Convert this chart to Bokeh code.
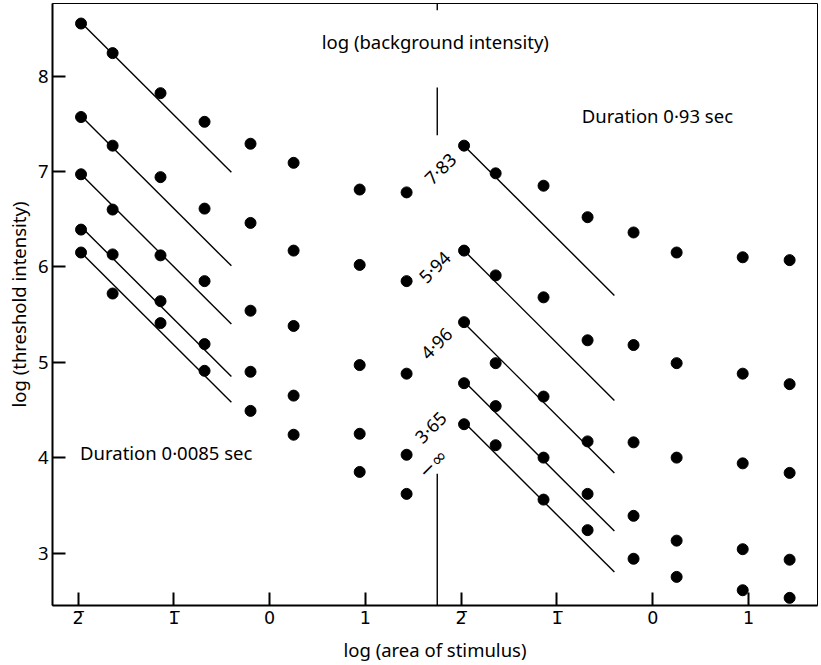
from bokeh.plotting import figure
from bokeh.models import FixedTicker, Range1d
from bokeh.core.properties import value
from bokeh.embed import file_html
from bokeh.resources import INLINE

# ---- data -------------------------------------------------------------
# log(area of stimulus) at which thresholds were measured
area_log = [-1.97, -1.64, -1.14, -0.68, -0.20, 0.25, 0.94, 1.43]

# background intensities (log) labelling the five curves
background_labels = ["7·83", "5·94", "4·96", "3·65"]
dark_label = ["−∞"]

# Duration 0.0085 sec : log(threshold intensity)
short_783 = [8.55, 8.24, 7.82, 7.52, 7.29, 7.09, 6.81, 6.78]
short_594 = [7.57, 7.27, 6.94, 6.61, 6.46, 6.17, 6.02, 5.85]
short_496 = [6.97, 6.60, 6.12, 5.85, 5.54, 5.38, 4.97, 4.88]
short_365 = [6.39, 6.13, 5.64, 5.19, 4.90, 4.65, 4.25, 4.03]
short_dark = [6.15, 5.72, 5.41, 4.91, 4.49, 4.24, 3.85, 3.62]

# Duration 0.93 sec : log(threshold intensity)
long_783 = [7.27, 6.98, 6.85, 6.52, 6.36, 6.15, 6.10, 6.07]
long_594 = [6.17, 5.91, 5.68, 5.23, 5.18, 4.99, 4.88, 4.77]
long_496 = [5.42, 4.99, 4.64, 4.17, 4.16, 4.00, 3.94, 3.84]
long_365 = [4.78, 4.54, 4.00, 3.62, 3.39, 3.13, 3.04, 2.93]
long_dark = [4.35, 4.13, 3.56, 3.24, 2.94, 2.75, 2.61, 2.53]

# slope -1 (complete summation) fits: intercepts and area extent
fit_short_intercept = [6.59, 5.61, 5.00, 4.45, 4.18]
fit_long_intercept = [5.30, 4.20, 3.44, 2.83, 2.40]
fit_area_start = -1.97
fit_area_end = -0.40

tick_values = [-2, -1, 0, 1]
tick_labels = ["2\u0305", "1\u0305", "0", "1"]

# ---- layout constants -------------------------------------------------
PANEL_OFFSET = 4.0       # right panel shifted along the x axis
DIVIDER_X = 1.75
FONT = "Noto Sans"
TICK_FONT = "DejaVu Sans"
Y_TOP = 8.76
Y_BOT = 2.45

p = figure(frame_width=765, frame_height=602,
           x_range=Range1d(-2.268, 5.721), y_range=Range1d(Y_BOT, Y_TOP),
           output_backend="svg", toolbar_location=None,
           min_border_left=52, min_border_right=3, min_border_top=3,
           min_border_bottom=55)
p.grid.visible = False
p.outline_line_color = "black"
p.outline_line_width = 1
p.background_fill_color = "white"
p.border_fill_color = "white"

# axes
p.xaxis.ticker = FixedTicker(ticks=tick_values + [t + PANEL_OFFSET for t in tick_values])
p.xaxis.major_label_overrides = {**{t: l for t, l in zip(tick_values, tick_labels)},
                                 **{t + PANEL_OFFSET: l for t, l in zip(tick_values, tick_labels)}}
p.yaxis.ticker = FixedTicker(ticks=[3, 4, 5, 6, 7, 8])
for ax in (p.xaxis[0], p.yaxis[0]):
    ax.major_tick_in = 13
    ax.major_tick_out = 0
    ax.minor_tick_line_color = None
    ax.axis_line_width = 2
    ax.major_tick_line_width = 2
    ax.major_label_text_font = FONT
    ax.major_label_text_font_size = "18.5px"
    ax.major_label_text_color = "black"
    ax.axis_label_text_font = FONT
    ax.axis_label_text_font_size = "18.5px"
    ax.axis_label_text_font_style = "normal"
    ax.axis_label_text_color = "black"
p.xaxis.major_label_text_font = TICK_FONT
p.xaxis.major_label_text_font_size = "17.5px"
p.xaxis.axis_label = "log (area of stimulus)"
p.yaxis.axis_label = "log (threshold intensity)"
p.xaxis.major_label_standoff = 2
p.xaxis.axis_label_standoff = 6
p.yaxis.major_label_standoff = 4
p.yaxis.axis_label_standoff = 4

# points
short_series = [short_783, short_594, short_496, short_365, short_dark]
long_series = [long_783, long_594, long_496, long_365, long_dark]
for ys in short_series:
    p.scatter(area_log, ys, size=11, marker="circle", color="black")
for ys in long_series:
    p.scatter([a + PANEL_OFFSET for a in area_log], ys, size=11, marker="circle", color="black")

# fitted lines of slope -1
for a in fit_short_intercept:
    p.line([fit_area_start, fit_area_end], [a - fit_area_start, a - fit_area_end],
           line_color="black", line_width=1.4)
for a in fit_long_intercept:
    p.line([fit_area_start + PANEL_OFFSET, fit_area_end + PANEL_OFFSET],
           [a - fit_area_start, a - fit_area_end], line_color="black", line_width=1.4)

# divider between the two durations
p.segment(x0=[DIVIDER_X] * 3, x1=[DIVIDER_X] * 3,
          y0=[Y_TOP, 7.88, 3.83], y1=[8.69, 7.38, Y_BOT],
          line_color="black", line_width=1.4)

# texts
p.text(x=[DIVIDER_X - 0.02], y=[8.36], text=["log (background intensity)"],
       text_font=value(FONT), text_font_size="18.5px", text_align="center",
       text_baseline="middle", text_color="black")
p.text(x=[-1.98], y=[4.05], text=["Duration  0·0085 sec"],
       text_font=value(FONT), text_font_size="18.5px", text_align="left",
       text_baseline="middle", text_color="black")
p.text(x=[3.26], y=[7.59], text=["Duration  0·93 sec"],
       text_font=value(FONT), text_font_size="18.5px", text_align="left",
       text_baseline="middle", text_color="black")

label_x = [1.78, 1.72, 1.74, 1.68]
label_y = [7.03, 6.00, 5.20, 4.32]
p.text(x=label_x, y=label_y, text=background_labels, angle=0.785,
       text_font=value(FONT), text_font_size="18px", text_align="center",
       text_baseline="middle", text_color="black")
p.text(x=[1.70], y=[3.94], text=dark_label, angle=0.785,
       text_font=value(TICK_FONT), text_font_size="19px", text_align="center",
       text_baseline="middle", text_color="black")

open("out.html", "w").write(file_html(p, INLINE))
